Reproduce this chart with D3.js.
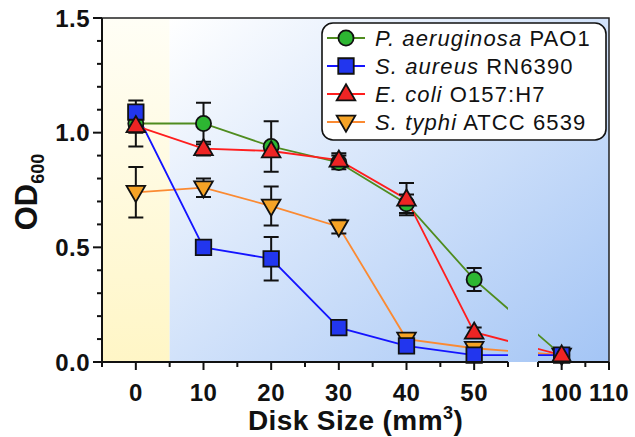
<!DOCTYPE html>
<meta charset="utf-8">
<head>
  <style>
    body { margin: 0; background: #fff; }
    svg text { font-family: "Liberation Sans", Arial, sans-serif; fill: #111; }
  </style>
</head>
<body>
<svg id="chart" width="635" height="437"></svg>
<script src="https://cdn.jsdelivr.net/npm/d3@7"></script>
<script>

// Data
var diskSizes = [0, 10, 20, 30, 40, 50, 100];
var paoMean   = [1.04, 1.04, 0.94, 0.87, 0.69, 0.36, 0.03];
var paoErr    = [0.10, 0.09, 0.11, 0.03, 0.04, 0.05, 0.01];
var aureusMean = [1.09, 0.50, 0.45, 0.15, 0.07, 0.03, 0.03];
var aureusErr  = [0.02, 0.02, 0.095, 0.01, 0.01, 0.01, 0.01];
var coliMean  = [1.03, 0.93, 0.92, 0.88, 0.71, 0.13, 0.03];
var coliErr   = [0.03, 0.03, 0.02, 0.03, 0.07, 0.02, 0.01];
var typhiMean = [0.74, 0.76, 0.68, 0.59, 0.10, 0.06, 0.03];
var typhiErr  = [0.11, 0.04, 0.085, 0.03, 0.01, 0.01, 0.01];
var yMajor = [0, 0.5, 1.0, 1.5];
var xMajor = [0, 10, 20, 30, 40, 50, 100, 110];
var xMinor = [-5, 5, 15, 25, 35, 45, 55, 95, 105];

var svg = d3.select("#chart");

// plot box
var pL = 102, pR = 609, pT = 18, pB = 362;
var gapL = 508, gapR = 538;

// broken x axis: -5..55 then 95..110
var x = d3.scaleLinear()
    .domain([-5, 55, 95, 110])
    .range([pL, gapL, gapR, pR]);
var y = d3.scaleLinear()
    .domain([0, 1.5])
    .range([pB, pT]);

var series = [
  {key: "typhi",  mean: typhiMean,  err: typhiErr,  line: "#fb8a32", fill: "#f5a326", sym: "down"},
  {key: "pao",    mean: paoMean,    err: paoErr,    line: "#4f8c1f", fill: "#2db632", sym: "circle"},
  {key: "aureus", mean: aureusMean, err: aureusErr, line: "#1414ff", fill: "#2236ee", sym: "square"},
  {key: "coli",   mean: coliMean,   err: coliErr,   line: "#ff1e1e", fill: "#ee2424", sym: "up"}
];

// background gradients
var defs = svg.append("defs");
var gy = defs.append("linearGradient").attr("id", "gYellow")
    .attr("x1", 0).attr("y1", 0).attr("x2", 0).attr("y2", 1);
gy.append("stop").attr("offset", "0%").attr("stop-color", "#fffef6");
gy.append("stop").attr("offset", "100%").attr("stop-color", "#fff6c6");
var gb = defs.append("linearGradient").attr("id", "gBlue")
    .attr("x1", 0).attr("y1", 0).attr("x2", 1).attr("y2", 1);
gb.append("stop").attr("offset", "0%").attr("stop-color", "#ffffff");
gb.append("stop").attr("offset", "100%").attr("stop-color", "#a4c5f5");

var clip = defs.append("clipPath").attr("id", "noGap");
clip.append("rect").attr("x", 0).attr("y", 0).attr("width", gapL).attr("height", 437);
clip.append("rect").attr("x", gapR).attr("y", 0).attr("width", 635 - gapR).attr("height", 437);

svg.append("rect")
    .attr("x", x(-5)).attr("y", pT)
    .attr("width", x(5) - x(-5)).attr("height", pB - pT)
    .attr("fill", "url(#gYellow)");
svg.append("rect")
    .attr("x", x(5)).attr("y", pT)
    .attr("width", pR - x(5)).attr("height", pB - pT)
    .attr("fill", "url(#gBlue)");

// frame top + right
svg.append("path")
    .attr("d", "M" + pL + "," + pT + "H" + pR + "V" + pB)
    .attr("fill", "none").attr("stroke", "#222").attr("stroke-width", 1.5);

// lines
var line = d3.line()
    .x(function(d, i) { return x(diskSizes[i]); })
    .y(function(d) { return y(d); });

var lineG = svg.append("g").attr("clip-path", "url(#noGap)");
series.forEach(function(s) {
  lineG.append("path")
      .datum(s.mean)
      .attr("d", line)
      .attr("fill", "none")
      .attr("stroke", s.line)
      .attr("stroke-width", 1.8);
});

// error bars
var capW = 7.5;
series.forEach(function(s) {
  var g = svg.append("g").attr("stroke", "#111").attr("stroke-width", 2).attr("fill", "none");
  s.mean.forEach(function(m, i) {
    var cx = x(diskSizes[i]), y1 = y(m + s.err[i]), y2 = y(m - s.err[i]);
    g.append("path").attr("d",
      "M" + cx + "," + y1 + "V" + y2 +
      "M" + (cx - capW) + "," + y1 + "H" + (cx + capW) +
      "M" + (cx - capW) + "," + y2 + "H" + (cx + capW));
  });
});

// markers
function symbolPath(kind) {
  if (kind == "circle") return d3.symbol().type(d3.symbolCircle).size(180)();
  if (kind == "square") return d3.symbol().type(d3.symbolSquare).size(240)();
  return d3.symbol().type(d3.symbolTriangle).size(150)();
}
function addMarker(g, s, cx, cy) {
  var rot = s.sym == "down" ? " rotate(180)" : "";
  var dy = s.sym == "down" ? -1 : (s.sym == "up" ? 1 : 0);
  g.append("path")
      .attr("d", symbolPath(s.sym))
      .attr("transform", "translate(" + cx + "," + (cy + dy) + ")" + rot)
      .attr("fill", s.fill)
      .attr("stroke", "#111")
      .attr("stroke-width", 1.8);
}
series.forEach(function(s) {
  var g = svg.append("g");
  s.mean.forEach(function(m, i) { addMarker(g, s, x(diskSizes[i]), y(m)); });
});

// axes
var ax = svg.append("g").attr("stroke", "#111").attr("stroke-width", 2).attr("fill", "none");
ax.append("path").attr("d", "M" + pL + "," + pT + "V" + pB);
ax.append("path").attr("d", "M" + pL + "," + pB + "H" + gapL);
ax.append("path").attr("d", "M" + gapR + "," + pB + "H" + pR);

d3.range(0, 16).forEach(function(k) {
  var v = k / 10, major = k % 5 == 0;
  ax.append("path").attr("d", "M" + (pL - (major ? 9 : 5)) + "," + y(v) + "H" + pL);
});
xMajor.forEach(function(v) {
  ax.append("path").attr("d", "M" + x(v) + "," + pB + "V" + (pB + 8));
});
xMinor.forEach(function(v) {
  ax.append("path").attr("d", "M" + x(v) + "," + pB + "V" + (pB + 5));
});

svg.append("g").selectAll("text").data(yMajor).enter().append("text")
    .attr("x", pL - 12).attr("y", function(d) { return y(d) + 8.5; })
    .attr("text-anchor", "end")
    .style("font-size", "24px").style("font-weight", "bold").style("letter-spacing", "0.5px")
    .text(d3.format(".1f"));

svg.append("g").selectAll("text").data(xMajor).enter().append("text")
    .attr("x", function(d) { return x(d); }).attr("y", pB + 39)
    .attr("text-anchor", "middle")
    .style("font-size", "24px").style("font-weight", "bold").style("letter-spacing", "0.5px")
    .text(function(d) { return d; });

// axis titles
var xt = svg.append("text")
    .attr("x", (pL + pR) / 2).attr("y", 430)
    .attr("text-anchor", "middle")
    .style("font-size", "28px").style("font-weight", "bold").style("letter-spacing", "0.4px");
xt.append("tspan").text("Disk Size (mm");
xt.append("tspan").attr("dy", -11).style("font-size", "18px").text("3");
xt.append("tspan").attr("dy", 11).text(")");

var yt = svg.append("text")
    .attr("transform", "translate(37,192) rotate(-90)")
    .attr("text-anchor", "middle")
    .style("font-size", "31px").style("font-weight", "bold");
yt.append("tspan").text("OD");
yt.append("tspan").attr("dy", 7).style("font-size", "18px").text("600");

// legend
var legendLabels = [
  {it: "P. aeruginosa", rest: " PAO1", key: "pao"},
  {it: "S. aureus", rest: " RN6390", key: "aureus"},
  {it: "E. coli", rest: " O157:H7", key: "coli"},
  {it: "S. typhi", rest: " ATCC 6539", key: "typhi"}
];
var lg = svg.append("g").attr("transform", "translate(322,23)");
lg.append("rect")
    .attr("width", 284).attr("height", 117).attr("rx", 11)
    .attr("fill", "#fff").attr("stroke", "#111").attr("stroke-width", 1.6);
legendLabels.forEach(function(l, i) {
  var s = series.filter(function(d) { return d.key == l.key; })[0];
  var cy = 15 + i * 28;
  lg.append("line").attr("x1", 5).attr("x2", 43).attr("y1", cy).attr("y2", cy)
      .attr("stroke", s.line).attr("stroke-width", 1.8);
  addMarker(lg, s, 24, cy);
  var t = lg.append("text").attr("x", 53).attr("y", cy + 8)
      .style("font-size", "22px").style("letter-spacing", "1.1px");
  t.append("tspan").style("font-style", "italic").text(l.it);
  t.append("tspan").text(l.rest);
});

</script>
</body>
